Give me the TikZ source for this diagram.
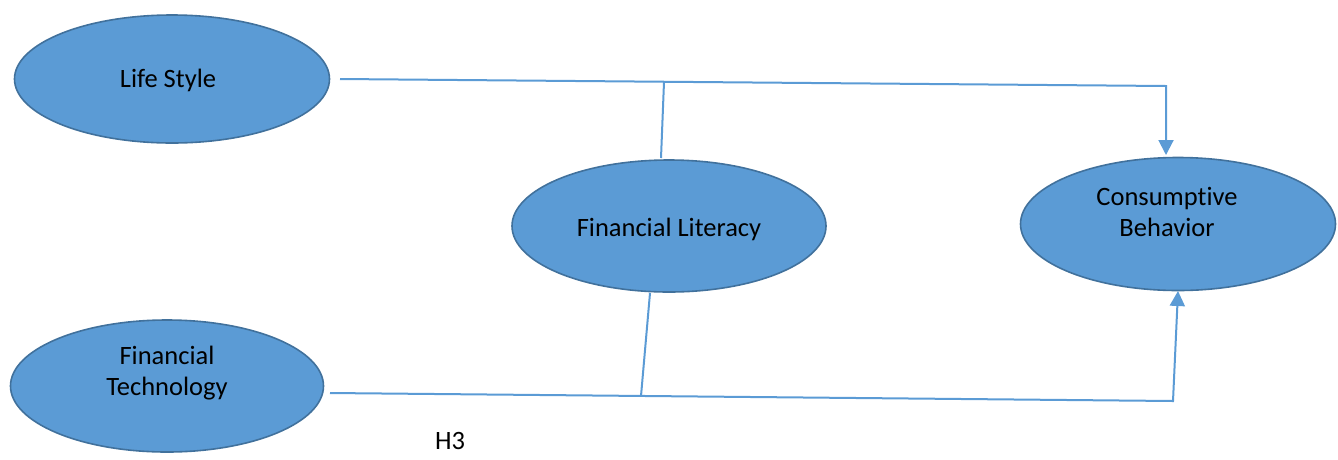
\documentclass[tikz,border=0pt]{standalone}
\usepackage{fontspec}
\setmainfont[Ligatures=NoCommon]{Carlito}
\usetikzlibrary{arrows.meta,shapes.geometric}
\definecolor{boxfill}{HTML}{5B9BD5}
\definecolor{boxedge}{HTML}{41719C}
\definecolor{linkblue}{HTML}{5B9BD5}
\begin{document}
\begin{tikzpicture}[x=1pt,y=-1pt,
  construct/.style={ellipse,draw=boxedge,fill=boxfill,line width=1.6pt,inner sep=0pt},
  caption/.style={font=\fontsize{26.5}{31}\selectfont,align=center,text=black},
  link/.style={draw=linkblue,line width=2pt},
  tip/.style={-{Triangle[length=15pt,width=15pt]}}]
\useasboundingbox (0,0) rectangle (1338,459);
% constructs
\node[construct,minimum width=315pt,minimum height=128pt] (ls) at (172,79) {};
\node[construct,minimum width=314pt,minimum height=132pt] (fl) at (669,226) {};
\node[construct,minimum width=315pt,minimum height=133pt] (cb) at (1178,224) {};
\node[construct,minimum width=313pt,minimum height=132pt] (ft) at (167,386) {};
% labels
\node[caption] (lst) at (168,80) {Life Style};
\node[caption] (flt) at (669,229) {Financial Literacy};
\node[caption] (cbt) at (1167,212) {Consumptive\\Behavior};
\node[caption] (ftt) at (167,373) {Financial\\Technology};
\node[caption] (h3) at (450,441) {H3};
% path anchors
\coordinate (lsout) at (340,79);
\coordinate (topcorner) at (1166,86);
\coordinate (topjoin) at (664,82);
\coordinate (flin) at (661,158);
\coordinate (ftout) at (330,393);
\coordinate (botcorner) at (1173,401);
\coordinate (botjoin) at (641,396);
\coordinate (flout) at (650,293);
\coordinate (cbin) at (1178,291);
% connectors
\draw[link,tip] (lsout) -- (topcorner) -- (topcorner |- 0,155);
\draw[link] (topjoin) -- (flin);
\draw[link,tip] (ftout) -- (botcorner) -- (cbin);
\draw[link] (flout) -- (botjoin);
\end{tikzpicture}
\end{document}
